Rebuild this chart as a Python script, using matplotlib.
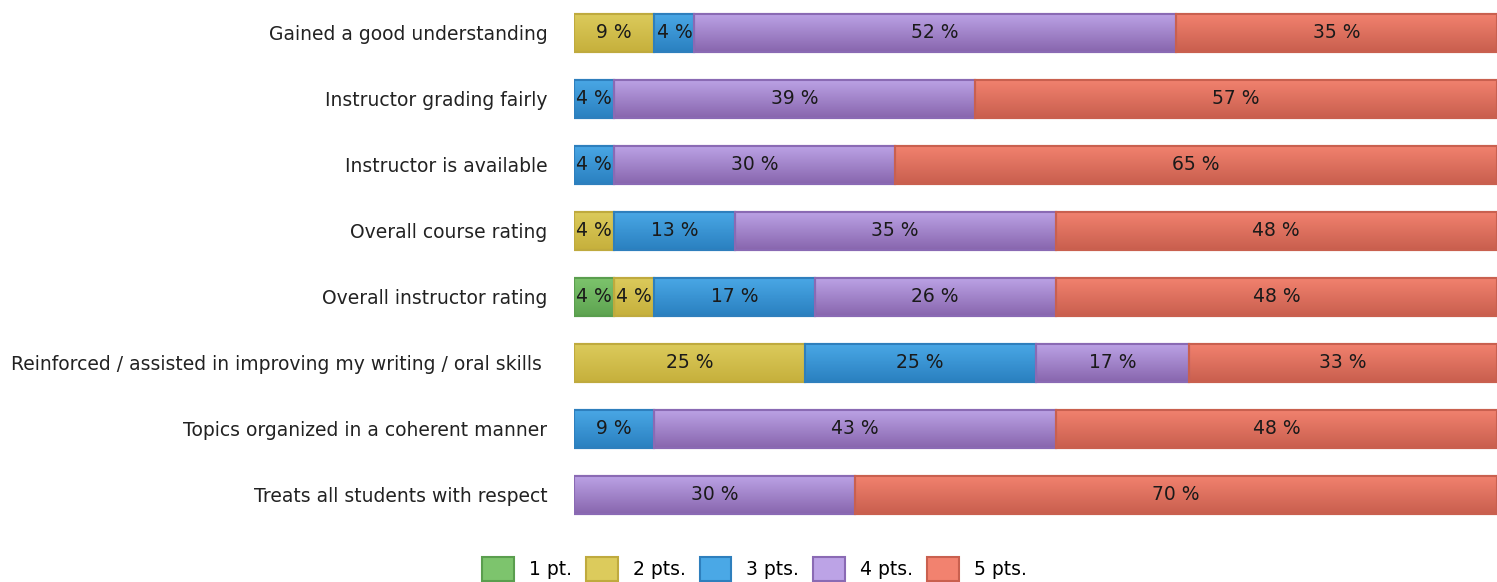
import numpy as np
import matplotlib.pyplot as plt
from matplotlib.colors import LinearSegmentedColormap
from matplotlib.patches import Patch

plt.rcParams['font.family'] = ['DejaVu Sans']

questions = [
    'Gained a good understanding',
    'Instructor grading fairly',
    'Instructor is available',
    'Overall course rating',
    'Overall instructor rating',
    'Reinforced / assisted in improving my writing / oral skills ',
    'Topics organized in a coherent manner',
    'Treats all students with respect',
]
series = ['1 pt.', '2 pts.', '3 pts.', '4 pts.', '5 pts.']

# percent of answers per rating
pt1 = [0, 0, 0, 0, 4.35, 0, 0, 0]
pt2 = [8.70, 0, 0, 4.35, 4.35, 25.0, 0, 0]
pt3 = [4.35, 4.35, 4.35, 13.04, 17.39, 25.0, 8.70, 0]
pt4 = [52.17, 39.13, 30.43, 34.78, 26.09, 16.67, 43.48, 30.43]
pt5 = [34.78, 56.52, 65.22, 47.83, 47.83, 33.33, 47.83, 69.57]

values = [pt1, pt2, pt3, pt4, pt5]
tops = ['#7dc46d', '#dccb5c', '#4aa8e6', '#bca3e6', '#f2826f']
bottoms = ['#5ea451', '#c6b03c', '#2a80c0', '#8866ae', '#c95f4e']
edges = ['#5a9e4e', '#bfaa3e', '#2e7fbd', '#8a6ab4', '#c9604f']

fs = 13.5
fig = plt.figure(figsize=(14.97, 5.82), dpi=100)
ax = fig.add_axes([574 / 1497, 0.093, 1 - 574 / 1497, 0.907])

y = np.arange(len(questions))
left = np.zeros(len(questions))
for i, vals in enumerate(values):
    vals = np.array(vals)
    bars = ax.barh(y, vals, left=left, height=0.58, color=tops[i],
                   edgecolor=edges[i], linewidth=1.5, zorder=2)
    cmap = LinearSegmentedColormap.from_list('g%d' % i, [tops[i], bottoms[i]])
    for b, v, l in zip(bars, vals, left):
        if v <= 0:
            continue
        x0, y0 = b.get_x(), b.get_y()
        w, h = b.get_width(), b.get_height()
        # vertical gradient fill, clipped to the bar
        im = ax.imshow(np.linspace(0, 1, 50).reshape(-1, 1), cmap=cmap,
                       extent=[x0, x0 + w, y0 + h, y0], aspect='auto',
                       zorder=2.5, interpolation='bilinear')
        im.set_clip_path(b)
        ax.add_patch(plt.Rectangle((x0, y0), w, h, fill=False,
                                   edgecolor=edges[i], linewidth=1.5, zorder=3))
        ax.text(l + v / 2, b.get_y() + h / 2, '%d %%' % int(v + 0.5),
                ha='center', va='center', fontsize=fs, color='#1a1a1a', zorder=4)
    left += vals

ax.set_xlim(0, 100)
ax.set_ylim(len(questions) - 0.5, -0.5)
ax.set_yticks(y)
ax.set_yticklabels(questions, fontsize=fs, color='#222222')
ax.tick_params(axis='y', length=0, pad=19)
ax.set_xticks([])
for s in ax.spines.values():
    s.set_visible(False)

handles = [Patch(facecolor=tops[i], edgecolor=edges[i], linewidth=1.5) for i in range(5)]
fig.legend(handles, series, loc='center', bbox_to_anchor=(0.504, 0.022), ncol=5,
           frameon=False, fontsize=fs, handlelength=1.7, handleheight=1.55,
           handletextpad=0.8, columnspacing=0.75)

fig.savefig('out.png', dpi=100)
